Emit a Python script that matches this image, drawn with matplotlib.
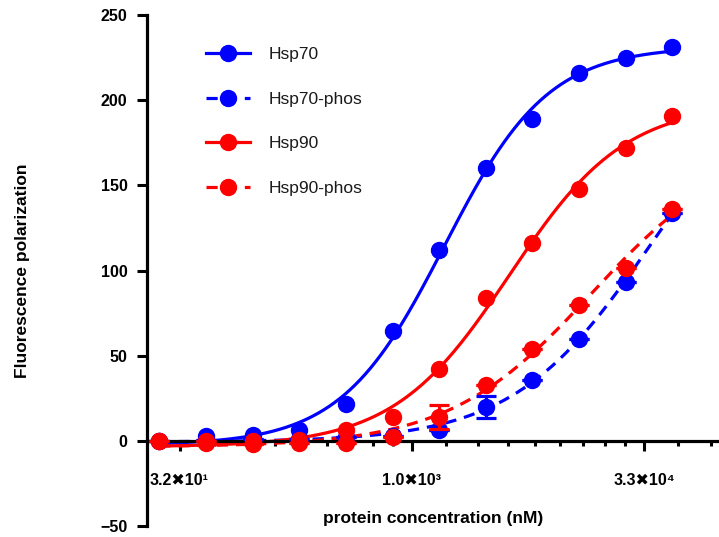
import matplotlib
matplotlib.use('Agg')
import matplotlib.pyplot as plt
import numpy as np
from matplotlib.ticker import FixedLocator, NullFormatter

# protein concentration (nM), 2-fold dilution series
conc = [23.4, 46.9, 93.8, 187.5, 375, 750, 1500, 3000, 6000, 12000, 24000, 48000]

hsp70 = [0, 3, 3.5, 6.5, 21.7, 64.5, 112, 160, 189, 216, 225, 231]
hsp70_phos = [0, 0.5, 1, 1, 2, 3, 6.5, 20, 36, 60, 93, 134]
hsp90 = [0, -1, 0, 0.5, 6.5, 14, 42, 84, 116, 148, 172, 191]
hsp90_phos = [0, 0, -2, -1, -1, 2.5, 14, 33, 54, 80, 101.5, 136]

# error bars that are visible in the picture (others hidden by markers)
hsp70_phos_err = [0, 0, 0, 0, 0, 0, 0, 6.5, 0, 0, 0, 0]
hsp90_phos_err = [0, 0, 0, 0, 0, 0, 7, 0, 0, 0, 0, 0]

major_ticks = [10 ** 1.5, 1e3, 10 ** 4.5]
major_labels = ['3.2\u271610\u00b9', '1.0\u271610\u00b3', '3.3\u271610\u2074']
minor_ticks = [52.5, 85, 131, 196, 284, 402, 558, 754,
               1660, 2690, 4140, 6190, 8990, 12700, 17600, 23800,
               52500, 85000]
y_ticks = [-50, 0, 50, 100, 150, 200, 250]

FONT = ['Liberation Sans', 'DejaVu Sans']
plt.rcParams['font.family'] = FONT


def fit_4pl(x, y):
    # sigmoidal dose-response fit, grid over logEC50 / hill, linear bottom/top
    lx = np.log10(np.asarray(x, float))
    y = np.asarray(y, float)
    lc = np.linspace(1.5, 6.0, 451)[:, None, None]
    h = np.linspace(0.4, 3.0, 131)[None, :, None]
    s = 1.0 / (1.0 + 10 ** ((lc - lx[None, None, :]) * h))
    sm = s.mean(axis=2, keepdims=True)
    ym = y.mean()
    c = ((s - sm) * (y - ym)).sum(axis=2, keepdims=True) / ((s - sm) ** 2).sum(axis=2, keepdims=True)
    b = ym - c * sm
    sse = ((b + c * s - y) ** 2).sum(axis=2)
    i, j = np.unravel_index(np.argmin(sse), sse.shape)
    return lc[i, 0, 0], h[0, j, 0], b[i, j, 0], c[i, j, 0]


def curve(x, y):
    lc, h, b, c = fit_4pl(x, y)
    xs = np.logspace(np.log10(x[0]), np.log10(x[-1]), 300)
    return xs, b + c / (1.0 + 10 ** ((lc - np.log10(xs)) * h))


fig = plt.figure(figsize=(7.19, 5.37), dpi=100)
ax = fig.add_axes([0.2045, 0.0205, 0.7955, 0.9515])

blue = '#0000ff'
red = '#ff0000'
dash = (0, (3.5, 2.5))
series = [
    ('Hsp70', hsp70, None, blue, '-'),
    ('Hsp70-phos', hsp70_phos, hsp70_phos_err, blue, dash),
    ('Hsp90', hsp90, None, red, '-'),
    ('Hsp90-phos', hsp90_phos, hsp90_phos_err, red, dash),
]

handles = []
for name, vals, err, col, ls in series:
    xs, ys = curve(conc, vals)
    ax.plot(xs, ys, color=col, lw=2.3, ls=ls, zorder=2)
    if err is not None:
        ax.errorbar(conc, vals, yerr=err, fmt='none', ecolor=col,
                    elinewidth=2.3, capsize=7, capthick=2.3, zorder=3)
    ax.plot(conc, vals, 'o', color=col, ms=11.5, mec=col, zorder=3)
    h, = ax.plot([], [], color=col, lw=2.3, ls=ls, marker='o', ms=11.5)
    handles.append(h)

ax.set_xscale('log')
ax.set_xlim(19.5, 96000)
ax.set_ylim(-50, 250)

ax.spines['top'].set_visible(False)
ax.spines['right'].set_visible(False)
ax.spines['bottom'].set_position(('data', 0))
ax.spines['left'].set_linewidth(2.3)
ax.spines['bottom'].set_linewidth(2.3)

ax.xaxis.set_major_locator(FixedLocator(major_ticks))
ax.set_xticklabels(major_labels)
ax.xaxis.set_minor_locator(FixedLocator(minor_ticks))
ax.xaxis.set_minor_formatter(NullFormatter())
ax.tick_params(axis='x', which='major', length=7, width=2.2, pad=16,
               labelsize=11.5)
ax.tick_params(axis='x', which='minor', length=3.5, width=2.2)
ax.set_yticks(y_ticks)
ax.tick_params(axis='y', length=7, width=2.2, pad=7, labelsize=11.5)
for lab in ax.get_xticklabels() + ax.get_yticklabels():
    lab.set_fontweight('bold')

ax.set_ylabel('Fluorescence polarization', fontsize=12.5, fontweight='bold')
ax.yaxis.set_label_coords(-0.205, 0.5)
ax.set_xlabel('protein concentration (nM)', fontsize=12.5, fontweight='bold')
ax.xaxis.set_label_coords(0.5, 0.03)

leg = ax.legend(handles, [s[0] for s in series], loc='upper left',
                bbox_to_anchor=(0.076, 0.968), frameon=False, fontsize=12.5,
                handlelength=2.5, handletextpad=1.1, labelspacing=1.7)
for t in leg.get_texts():
    t.set_color('#1a1a1a')

fig.savefig('out.png', dpi=100)
